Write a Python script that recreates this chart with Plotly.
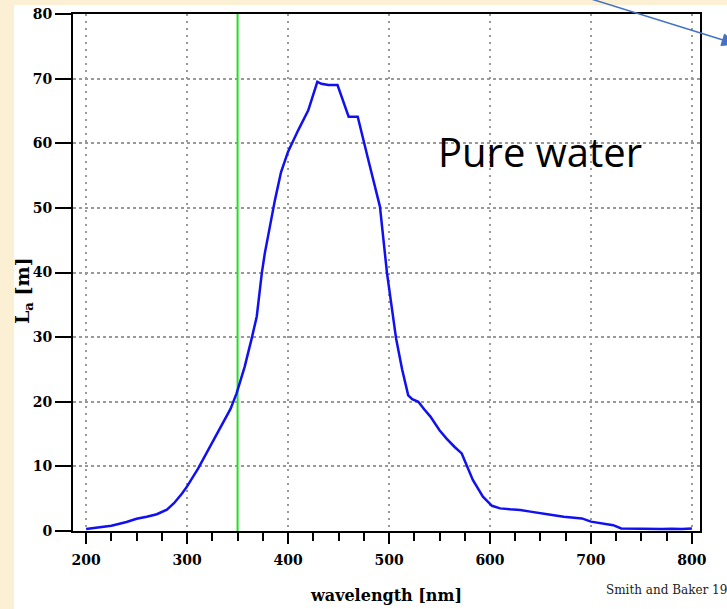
import plotly.graph_objects as go

# Attenuation length of pure water vs wavelength
wavelength_nm = [200, 210, 225, 240, 250, 260, 270, 280, 287, 295, 300, 311, 320, 326,
                 335, 343, 349, 357, 364, 369, 374, 377, 382, 387, 393, 400, 410, 420,
                 429, 433, 440, 449, 460, 469, 480, 491, 498, 507, 513, 519, 523, 529,
                 535, 541, 550, 557, 565, 569, 572, 583, 593, 602, 610, 620, 630, 640,
                 650, 660, 673, 682, 691, 700, 712, 722, 730, 740, 750, 760, 770, 780,
                 790, 800]
atten_len_m = [0.3, 0.5, 0.8, 1.4, 1.9, 2.2, 2.6, 3.3, 4.3, 5.8, 6.9, 9.7, 12.3, 14.1,
               16.6, 18.9, 21.3, 25.4, 29.8, 33.2, 39.9, 43.0, 47.1, 51.2, 55.5, 58.7, 62.0, 65.1,
               69.5, 69.2, 69.0, 69.0, 64.1, 64.1, 57.1, 50.2, 39.9, 29.8, 25.0, 21.0, 20.4, 20.0,
               18.8, 17.7, 15.6, 14.3, 13.0, 12.5, 12.0, 7.9, 5.3, 3.9, 3.5, 3.35, 3.25, 3.0,
               2.7, 2.5, 2.2, 2.1, 1.95, 1.45, 1.2, 0.9, 0.4, 0.35, 0.3, 0.3, 0.3, 0.35,
               0.3, 0.4]

marker_wavelength = [350, 350]
marker_range = [0, 80]

x_range = [187, 808]
y_range = [0, 80]

W, H = 727, 609
ML, MR, MT, MB = 73, 27, 14, 78
PW, PH = W - ML - MR, H - MT - MB


def px_x(p):
    return (p - ML) / PW


def px_y(p):
    return (H - MB - p) / PH


serif = "DejaVu Serif"
arrow_blue = "#4472c4"

fig = go.Figure()

fig.add_trace(go.Scatter(
    x=marker_wavelength, y=marker_range, mode="lines",
    line=dict(color="#22dd22", width=2), hoverinfo="skip", showlegend=False))

fig.add_trace(go.Scatter(
    x=wavelength_nm, y=atten_len_m, mode="lines",
    line=dict(color="#1010f0", width=2.5), showlegend=False))

# white slide panel over the cream background
fig.add_shape(type="rect", xref="paper", yref="paper",
              x0=px_x(14), x1=px_x(W + 5), y0=px_y(H + 5), y1=px_y(5),
              fillcolor="white", line=dict(width=0), layer="below")

# pointer arrow at the top right: shaft and head
fig.add_shape(type="line", xref="paper", yref="paper",
              x0=px_x(588), y0=px_y(-2), x1=px_x(723), y1=px_y(40),
              line=dict(color=arrow_blue, width=1.5))
tip, b1, b2 = (736, 44), (720.9, 45.5), (724.5, 34.1)
fig.add_shape(type="path", xref="paper", yref="paper",
              path=(f"M {px_x(tip[0])},{px_y(tip[1])} L {px_x(b1[0])},{px_y(b1[1])} "
                    f"L {px_x(b2[0])},{px_y(b2[1])} Z"),
              fillcolor=arrow_blue, line=dict(color=arrow_blue, width=1))

fig.add_annotation(text="Pure water", x=650, y=58.8, xref="x", yref="y",
                   showarrow=False, font=dict(family="Open Sans", size=40, color="black"))

fig.add_annotation(text="Smith and Baker 19", xref="paper", yref="paper",
                   x=px_x(604), y=px_y(590), xanchor="left", yanchor="middle",
                   showarrow=False, font=dict(family=serif, size=12, color="#222222"))

# y-axis title
fig.add_annotation(text="L<sub>a</sub> [m]", xref="paper", yref="paper",
                   x=px_x(23), y=px_y(291), xanchor="center", yanchor="middle",
                   textangle=-90, showarrow=False,
                   font=dict(family=serif, size=19, color="black", weight="bold"))

axis_common = dict(
    showline=True, linecolor="black", linewidth=2, mirror=True,
    ticks="outside", tickcolor="black", tickwidth=2,
    showgrid=True, gridcolor="#999999", gridwidth=1.5,
    zeroline=False, automargin=False,
    tickfont=dict(family=serif, size=14, color="black", weight="bold"),
)

fig.update_xaxes(
    range=x_range, tick0=200, dtick=100, ticklen=11, ticklabelstandoff=4,
    griddash="2px,5px",
    minor=dict(dtick=25, tick0=200, ticks="outside", ticklen=8, tickwidth=2,
               tickcolor="black", showgrid=False),
    title=dict(text="wavelength [nm]", standoff=23,
               font=dict(family=serif, size=16, color="black", weight="bold")),
    **axis_common)

fig.update_yaxes(range=y_range, tick0=0, dtick=10, ticklen=16, griddash="dot",
                 **axis_common)

fig.update_layout(
    width=W, height=H, autosize=False,
    margin=dict(l=ML, r=MR, t=MT, b=MB),
    paper_bgcolor="#fcf0d4", plot_bgcolor="white",
)

fig.write_html("out.html")
